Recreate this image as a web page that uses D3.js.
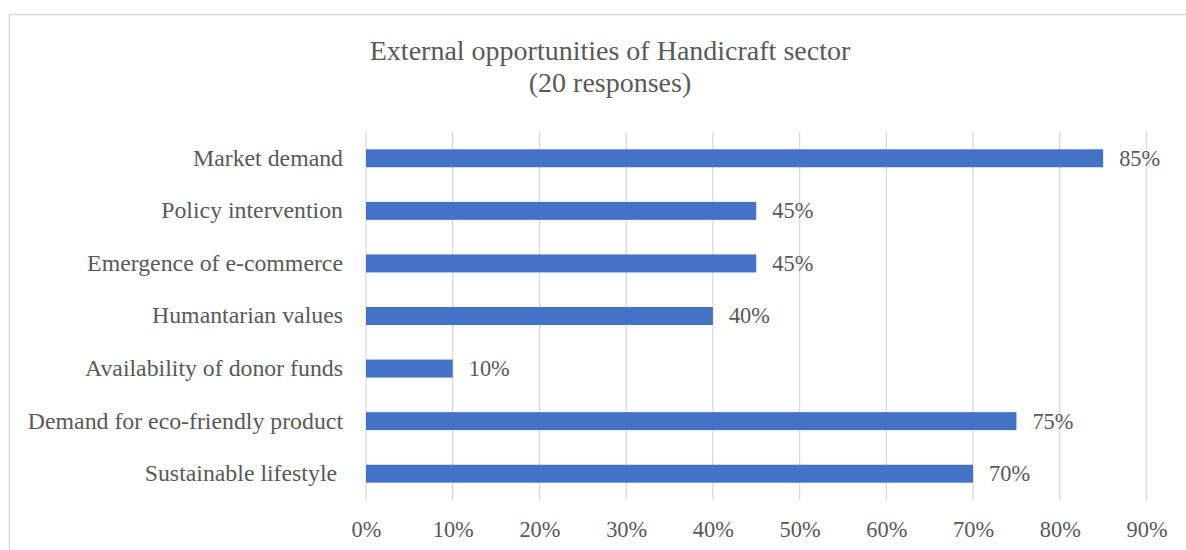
<!DOCTYPE html>
<html>
<head>
<meta charset="utf-8">
<script src="https://cdn.jsdelivr.net/npm/d3@7"></script>
<style>
  html, body { margin: 0; padding: 0; background: #fff; }
  svg { display: block; }
  text { font-family: "Liberation Serif", "Times New Roman", serif; fill: #595959; }
</style>
</head>
<body>
<div id="chart"></div>
<script>
// Survey results: share of respondents naming each opportunity
const categories = [
  "Market demand",
  "Policy intervention",
  "Emergence of e-commerce",
  "Humantarian values",
  "Availability of donor funds",
  "Demand for eco-friendly product",
  "Sustainable lifestyle "
];
const values = [0.85, 0.45, 0.45, 0.40, 0.10, 0.75, 0.70];
const tickValues = [0, 0.1, 0.2, 0.3, 0.4, 0.5, 0.6, 0.7, 0.8, 0.9];
const titleLines = ["External opportunities of Handicraft sector", "(20 responses)"];

const W = 1186, H = 550;
const plot = { left: 366, right: 1146.5, top: 132, bottom: 500 };
const serif = "'Liberation Serif', 'Times New Roman', serif";

const svg = d3.select("#chart").append("svg")
  .attr("width", W).attr("height", H);

// chart area frame
svg.append("rect")
  .attr("x", 9.5).attr("y", 14.5)
  .attr("width", 1300).attr("height", 700)
  .attr("fill", "none").attr("stroke", "#d9d9d9").attr("stroke-width", 1.5);

// title
svg.append("g").selectAll("text")
  .data(titleLines).join("text")
  .attr("x", 610).attr("y", (d, i) => 60 + i * 32)
  .attr("text-anchor", "middle")
  .style("font-size", "28px")
  .text(d => d);

const x = d3.scaleLinear().domain([0, 0.9]).range([plot.left, plot.right]);
const y = d3.scaleBand().domain(categories)
  .range([plot.top, plot.bottom])
  .paddingInner(0.658).paddingOuter(0.329);

// vertical gridlines
svg.append("g").selectAll("line")
  .data(tickValues).join("line")
  .attr("x1", d => x(d)).attr("x2", d => x(d))
  .attr("y1", plot.top).attr("y2", plot.bottom)
  .attr("stroke", "#d9d9d9").attr("stroke-width", 1.3);

// x axis labels
const xAxis = d3.axisBottom(x).tickValues(tickValues)
  .tickFormat(d3.format(".0%")).tickSize(0).tickPadding(0);
const gx = svg.append("g").attr("transform", `translate(0,${plot.bottom})`).call(xAxis);
gx.select(".domain").remove();
gx.selectAll("text")
  .attr("y", 36.5).attr("dy", null)
  .style("font-size", "22.4px").style("font-family", serif)
  .attr("fill", "#595959");

// category labels
const yAxis = d3.axisLeft(y).tickSize(0).tickPadding(0);
const gy = svg.append("g").attr("transform", `translate(${plot.left - 23},0)`).call(yAxis);
gy.select(".domain").remove();
gy.selectAll("text")
  .attr("dy", "0.31em")
  .style("font-size", "23.8px").style("font-family", serif)
  .style("white-space", "pre")
  .attr("fill", "#595959");

// bars
svg.append("g").selectAll("rect")
  .data(values).join("rect")
  .attr("x", x(0))
  .attr("y", (d, i) => y(categories[i]))
  .attr("width", d => x(d) - x(0))
  .attr("height", y.bandwidth())
  .attr("fill", "#4472c4");

// value labels
svg.append("g").selectAll("text")
  .data(values).join("text")
  .attr("x", d => x(d) + 16)
  .attr("y", (d, i) => y(categories[i]) + y.bandwidth() / 2)
  .attr("dy", "0.33em")
  .style("font-size", "22.4px")
  .text(d => d3.format(".0%")(d));
</script>
</body>
</html>
